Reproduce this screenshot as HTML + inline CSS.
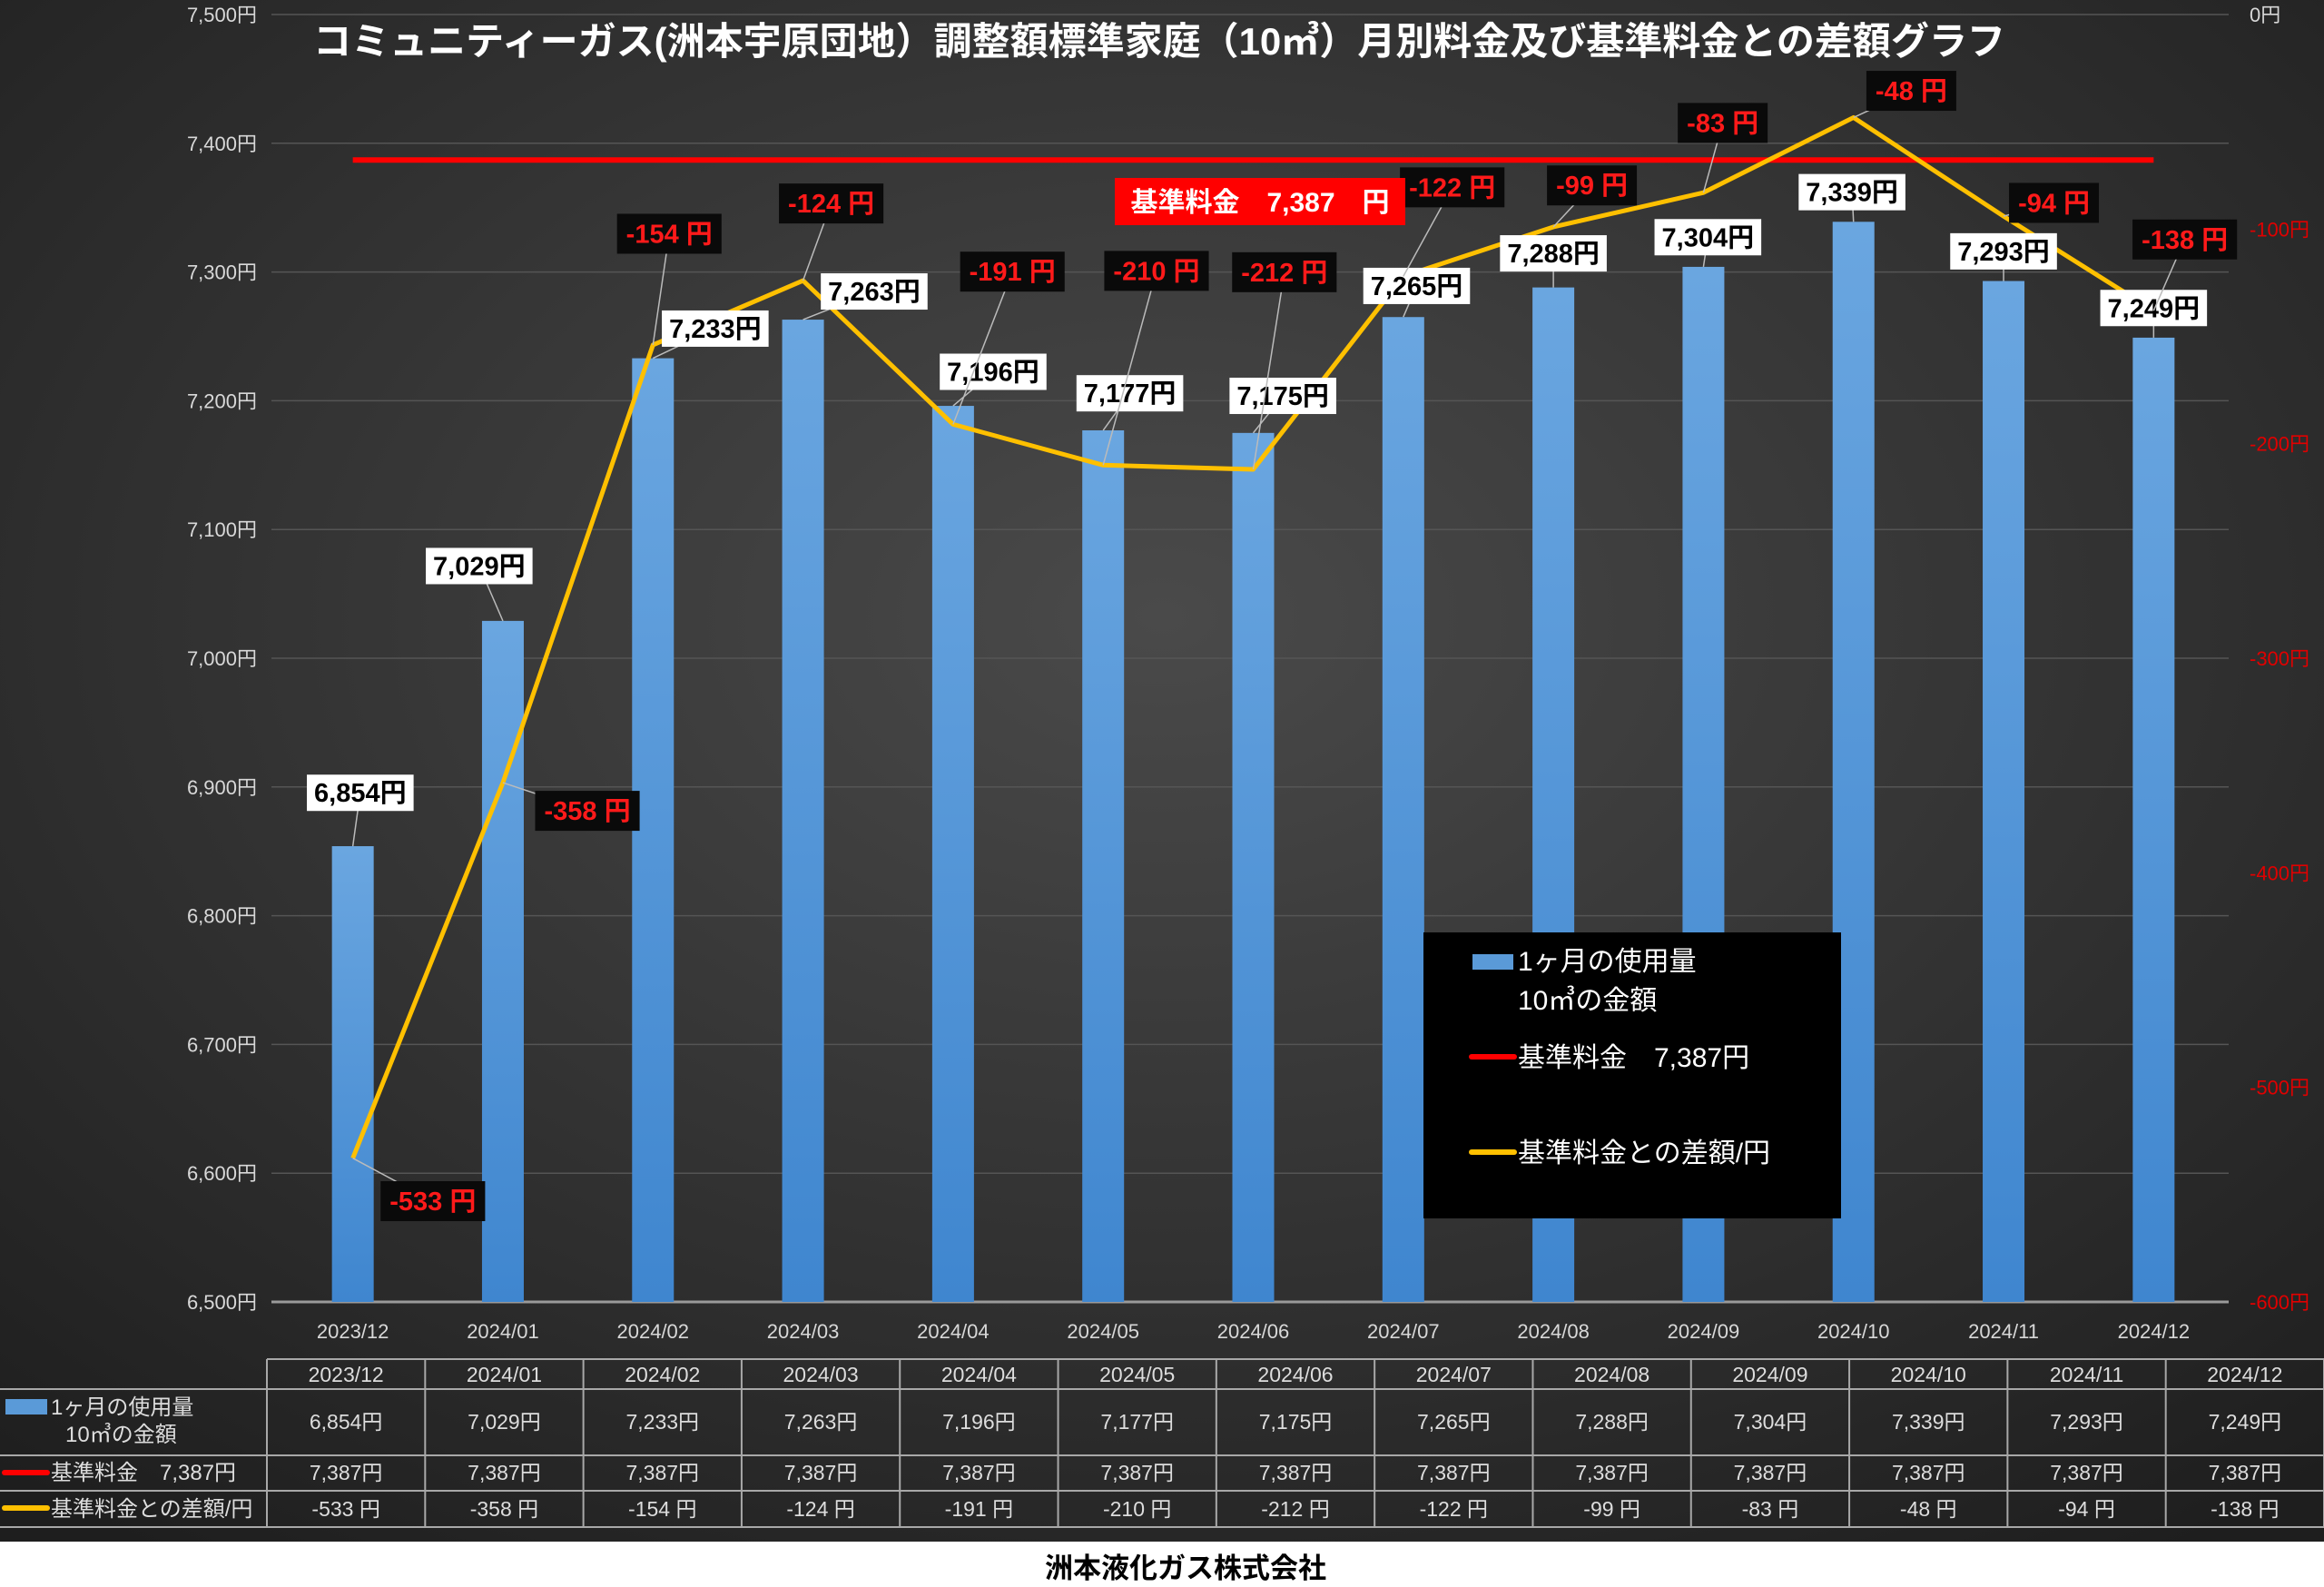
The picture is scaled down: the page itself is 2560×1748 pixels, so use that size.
<!DOCTYPE html>
<html><head><meta charset="utf-8">
<style>
html,body{margin:0;padding:0;background:#fff;}
svg{display:block;}
text{font-family:"Liberation Sans","Noto Sans CJK JP",sans-serif;}
</style></head>
<body>
<svg id="chart" width="2560" height="1748" viewBox="0 0 2560 1748" xmlns="http://www.w3.org/2000/svg">
<defs>
<radialGradient id="bg" cx="0.5" cy="0.4" r="0.75">
<stop offset="0" stop-color="#4a4a4a"/><stop offset="1" stop-color="#1e1e1e"/>
</radialGradient>
<linearGradient id="barg" x1="0" y1="0" x2="0" y2="1">
<stop offset="0" stop-color="#6aa6e0"/><stop offset="1" stop-color="#3f86cf"/>
</linearGradient>
</defs>
<rect x="0" y="0" width="2560" height="1698" fill="url(#bg)"/>
<g id="grid"></g><g id="bars"></g><g id="lines"></g><g id="labels"></g><g id="table"></g>
</svg>
<script>
const categories=["2023/12","2024/01","2024/02","2024/03","2024/04","2024/05","2024/06","2024/07","2024/08","2024/09","2024/10","2024/11","2024/12"];
const barValues=[6854,7029,7233,7263,7196,7177,7175,7265,7288,7304,7339,7293,7249];
const baseValue=7387;
const diffValues=[-533,-358,-154,-124,-191,-210,-212,-122,-99,-83,-48,-94,-138];
const leftTicks=[6500,6600,6700,6800,6900,7000,7100,7200,7300,7400,7500];
const rightTicks=[0,-100,-200,-300,-400,-500,-600];
// label offsets (layout, display units)
const barLabelDx=[5,-16,42,48,27,18,20,9,0,3,-1,0,0];
const barLabelDy=[-36,-37,-20,-19,-23,-25,-25,-21,-23,-20,-20,-20,-20];
const diffLabelDx=[54,57,11,19,40,36,21,33,26,13,39,34,21];
const diffLabelDy=[29,19,-75,-52,-103,-131,-133,-60,-28,-47,-18,-9,-48];

const NS="http://www.w3.org/2000/svg";
const K=1.633;
const L=306,R=2455,T=16,B=1434;
const band=(R-L)/categories.length;
const xc=i=>L+band*(i+0.5);
const yL=v=>B-(v-6500)/1000*(B-T);
const yR=v=>T+(0-v)/600*(B-T);
function mk(tag,attrs,parent,txt){const e=document.createElementNS(NS,tag);for(const k in attrs)e.setAttribute(k,attrs[k]);if(txt!==undefined)e.textContent=txt;parent.appendChild(e);return e;}
const fmt=v=>v.toLocaleString('en-US');
const grid=document.getElementById('grid'),bars=document.getElementById('bars'),lines=document.getElementById('lines'),labels=document.getElementById('labels'),table=document.getElementById('table');

leftTicks.forEach(v=>{
  const g=mk('line',{x1:299,x2:R,y1:yL(v),y2:yL(v),stroke:v===6500?'#9a9a9a':'#555',"stroke-width":v===6500?3:1.5},grid);
  
  const t=mk('text',{x:283,y:yL(v)+8,"text-anchor":"end","font-size":22,fill:"#d8d8d8"},grid,fmt(v)+"円");
  
});
rightTicks.forEach(v=>{
  const t=mk('text',{x:2478,y:yR(v)+8,"font-size":22,fill:v===0?"#d8d8d8":"#e00000"},grid,v+"円");
  
});
categories.forEach((c,i)=>{
  const t=mk('text',{x:xc(i),y:1474,"text-anchor":"middle","font-size":22,fill:"#d8d8d8"},grid,c);
  
});
const title=mk('text',{x:1277,y:60,"text-anchor":"middle","font-size":42,"font-weight":"bold",fill:"#fff"},grid,"コミュニティーガス(洲本宇原団地）調整額標準家庭（10㎥）月別料金及び基準料金との差額グラフ");


barValues.forEach((v,i)=>{
  const r=mk('rect',{x:xc(i)-23,y:yL(v),width:46,height:B-yL(v),fill:"url(#barg)"},bars);
  
});
const base=mk('line',{x1:xc(0),x2:xc(12),y1:yL(baseValue),y2:yL(baseValue),stroke:"#ff0000","stroke-width":6},lines);

const pts=diffValues.map((v,i)=>xc(i)+","+yR(v)).join(" ");
const dl=mk('polyline',{points:pts,fill:"none",stroke:"#ffc000","stroke-width":5,"stroke-linejoin":"round"},lines);


function labelBox(cx,cy,str,bg,fg,px,py,name,ptx,pty){
  if(ptx!==undefined){const ln=mk('line',{x1:ptx,y1:pty,x2:cx,y2:cy,stroke:"#bbb","stroke-width":1.5},labels);
    }
  const g=mk('g',{},labels);
  
  const r=mk('rect',{fill:bg},g);
  const t=mk('text',{x:cx,y:cy+10,"text-anchor":"middle","font-size":29,"font-weight":"bold",fill:fg},g,str);
  const w=t.getComputedTextLength()+px*2;
  r.setAttribute('x',cx-w/2);r.setAttribute('y',cy-20-py/2);r.setAttribute('width',w);r.setAttribute('height',40+py);
}
barValues.forEach((v,i)=>{
  labelBox(xc(i)+barLabelDx[i]*K,yL(v)+barLabelDy[i]*K,fmt(v)+"円","#fff","#000",8,0,'bar-value-label',xc(i),yL(v));
});
diffValues.forEach((v,i)=>{
  labelBox(xc(i)+diffLabelDx[i]*K,yR(v)+diffLabelDy[i]*K,v+" 円","#0a0a0a","#ff1a1a",10,4,'difference-value-label',xc(i),yR(v));
});
{const g=mk('g',{},labels);
mk('rect',{x:1228,y:196,width:320,height:52,fill:"#ff0000"},g);
mk('text',{x:1388,y:233,"text-anchor":"middle","font-size":30,"font-weight":"bold",fill:"#fff"},g,"基準料金　7,387　円");}
{const g=mk('g',{},labels);
mk('rect',{x:1568,y:1027,width:460,height:315,fill:"#000"},g);
mk('rect',{x:1622,y:1051,width:45,height:17,fill:"#5a9ad8"},g);
mk('text',{x:1672,y:1069,"font-size":30,fill:"#fff"},g,"1ヶ月の使用量");
mk('text',{x:1672,y:1112,"font-size":30,fill:"#fff"},g,"10㎥の金額");
mk('line',{x1:1621,x2:1668,y1:1164,y2:1164,stroke:"#ff0000","stroke-width":6,"stroke-linecap":"round"},g);
mk('text',{x:1672,y:1175,"font-size":30,fill:"#fff"},g,"基準料金　7,387円");
mk('line',{x1:1621,x2:1668,y1:1269,y2:1269,stroke:"#ffc000","stroke-width":6,"stroke-linecap":"round"},g);
mk('text',{x:1672,y:1280,"font-size":30,fill:"#fff"},g,"基準料金との差額/円");}
{const g=table;
const tx0=294,cw=(2560-tx0)/13;const rows=[1497,1530,1603,1642,1682];
const st={stroke:"#a8a8a8","stroke-width":2};
mk('line',Object.assign({x1:tx0,x2:2560,y1:rows[0],y2:rows[0]},st),g);
for(let r=1;r<rows.length;r++)mk('line',Object.assign({x1:0,x2:2560,y1:rows[r],y2:rows[r]},st),g);
for(let c=0;c<=13;c++){mk('line',Object.assign({x1:tx0+c*cw,x2:tx0+c*cw,y1:rows[0],y2:rows[4]},st),g);}
categories.forEach((c,i)=>{const x=tx0+cw*(i+0.5);
  const a=mk('text',{x:x,y:1522,"text-anchor":"middle","font-size":23,fill:"#ddd"},g,c);
  const b=mk('text',{x:x,y:1574,"text-anchor":"middle","font-size":23,fill:"#ddd"},g,fmt(barValues[i])+"円");
  const d=mk('text',{x:x,y:1630,"text-anchor":"middle","font-size":23,fill:"#ddd"},g,fmt(baseValue)+"円");
  const e=mk('text',{x:x,y:1670,"text-anchor":"middle","font-size":23,fill:"#ddd"},g,diffValues[i]+" 円");
});
mk('rect',{x:6,y:1541,width:46,height:17,fill:"#5a9ad8"},g);
mk('text',{x:56,y:1558,"font-size":24,fill:"#ddd"},g,"1ヶ月の使用量");
mk('text',{x:72,y:1588,"font-size":24,fill:"#ddd"},g,"10㎥の金額");
mk('line',{x1:5,x2:52,y1:1622,y2:1622,stroke:"#ff0000","stroke-width":6,"stroke-linecap":"round"},g);
mk('text',{x:56,y:1630,"font-size":24,fill:"#ddd"},g,"基準料金　7,387円");
mk('line',{x1:5,x2:52,y1:1661,y2:1661,stroke:"#ffc000","stroke-width":6,"stroke-linecap":"round"},g);
mk('text',{x:56,y:1670,"font-size":24,fill:"#ddd"},g,"基準料金との差額/円");
const f=mk('text',{x:1306,y:1738,"text-anchor":"middle","font-size":31,"font-weight":"bold",fill:"#000"},g,"洲本液化ガス株式会社");
}
</script>
</body></html>
